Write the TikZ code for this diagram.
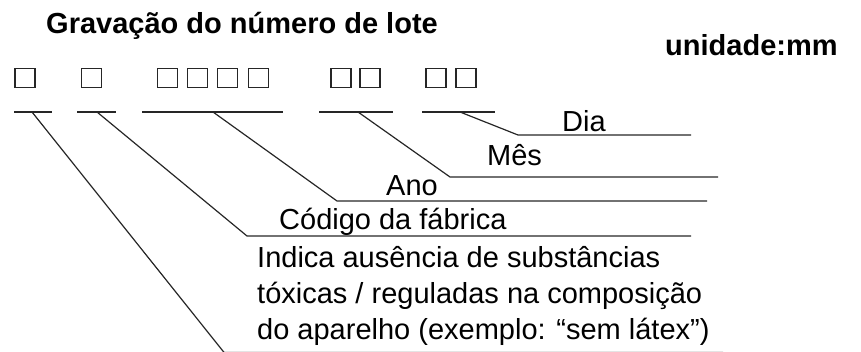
\documentclass[tikz,border=0pt]{standalone}
\usepackage{fontspec}
\setmainfont{Liberation Sans}
\begin{document}
\begin{tikzpicture}[x=1pt,y=-1pt,
  lbl/.style={anchor=base west,inner sep=0pt,font=\fontsize{29}{35}\selectfont},
  ttl/.style={anchor=base west,inner sep=0pt,font=\fontsize{29}{35}\selectfont\bfseries},
  box/.style={draw=black!85,line width=1.3pt,minimum width=20pt,minimum height=19pt,inner sep=0pt},
  rule/.style={line width=1.3pt,black!85},
  lead/.style={line width=1.2pt,black!85}]
\useasboundingbox (0,0) rectangle (861,352);
% titles
\node[ttl] (title) at (46,34) {Gravação do número de lote};
\node[ttl] (unit) at (665,56) {unidade:mm};
% digit boxes
\foreach \n/\x in {1/25,2/91.5,3/167.5,4/197.5,5/227.5,6/258.5,7/341,8/370,9/436,10/466}
  \node[box] (s\n) at (\x,78) {};
% dashes under the groups
\coordinate (a1) at (14,112);  \coordinate (b1) at (52,112);
\coordinate (a2) at (77,112);  \coordinate (b2) at (116,112);
\coordinate (a3) at (142,112); \coordinate (b3) at (283,112);
\coordinate (a4) at (319,112); \coordinate (b4) at (393,112);
\coordinate (a5) at (422,112); \coordinate (b5) at (495,112);
\foreach \n in {1,...,5} \draw[rule] (a\n) -- (b\n);
% attachment points
\coordinate (p1) at (32,112);
\coordinate (p2) at (97,112);
\coordinate (p3) at (213,112);
\coordinate (p4) at (358,112);
\coordinate (p5) at (460,112);
% underline start / end points
\coordinate (q5) at (518,135); \coordinate (r5) at (691,135);
\coordinate (q4) at (450,177); \coordinate (r4) at (718,177);
\coordinate (q3) at (337,201); \coordinate (r3) at (707,201);
\coordinate (q2) at (247,236); \coordinate (r2) at (691,236);
\coordinate (q1) at (224,352.4); \coordinate (r1) at (723,352.4);
% labels
\node[lbl] (dia) at (562,132) {Dia};
\node[lbl] (mes) at (487,166) {Mês};
\node[lbl] (ano) at (386,196) {Ano};
\node[lbl] (cod) at (279,230) {Código da fábrica};
\node[lbl] (ind1) at (257,268) {Indica ausência de substâncias};
\node[lbl] (ind2) at (257,303) {tóxicas / reguladas na composição};
\node[lbl] (ind3) at (257,339) {do aparelho (exemplo: “sem látex”)};
% leaders
\foreach \n in {1,...,5} \draw[lead] (p\n) -- (q\n) -- (r\n);
\end{tikzpicture}
\end{document}
